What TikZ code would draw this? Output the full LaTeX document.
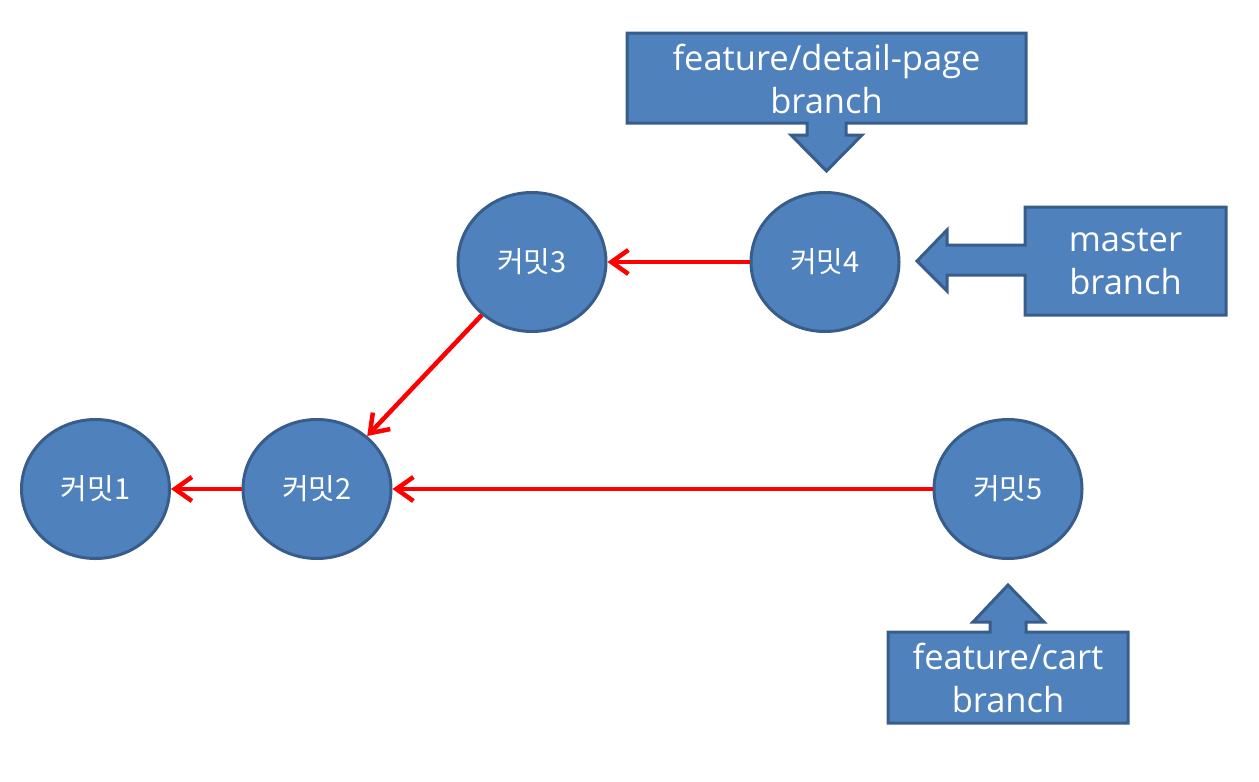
\documentclass[tikz,border=0pt]{standalone}
\usepackage{fontspec}
\setmainfont{Noto Sans CJK KR}
\newfontfamily\latinfont{Open Sans}
\usetikzlibrary{arrows.meta,shapes.geometric}
\definecolor{cfill}{HTML}{4F81BD}
\definecolor{cline}{HTML}{385D8A}
\begin{document}
\begin{tikzpicture}[x=1pt,y=-1pt,
  commit/.style={ellipse,draw=cline,fill=cfill,line width=3pt,minimum width=148pt,minimum height=139pt,inner sep=0pt,text=white,font=\fontsize{29}{34}\selectfont},
  callout/.style={draw=cline,fill=cfill,line width=3pt,line join=miter},
  ctext/.style={text=white,align=center,font=\latinfont\fontsize{34.5}{43}\selectfont,inner sep=0pt},
  link/.style={draw=red,line width=4.5pt,-{Straight Barb[length=17pt,width=24pt,line width=4.5pt]}}]
\useasboundingbox (0,0) rectangle (1259,782);
\node[commit] (c1) at (95.5,489) {커밋1};
\node[commit] (c2) at (317,489) {커밋2};
\node[commit] (c3) at (532,262) {커밋3};
\node[commit] (c4) at (825,262) {커밋4};
\node[commit] (c5) at (1008,489) {커밋5};
\draw[link] (c2) -- (c1);
\draw[link] (c4) -- (c3);
\draw[link] (c3) -- (c2);
\draw[link] (c5) -- (c2);
% callouts
\draw[callout] (627,33) -- (1026,33) -- (1026,123) -- (846,123) -- (846,135) -- (862,135) -- (826.5,171) -- (791,135) -- (807,135) -- (807,123) -- (627,123) -- cycle;
\node[ctext] (b1) at (826.5,79) {feature/detail-page\\branch};
\draw[callout] (1025,207) -- (1226,207) -- (1226,315) -- (1025,315) -- (1025,275) -- (947,275) -- (947,291) -- (917,261) -- (947,230) -- (947,245) -- (1025,245) -- cycle;
\node[ctext] (b2) at (1125.5,262) {master\\branch};
\draw[callout] (888,632) -- (990,632) -- (990,622) -- (973,622) -- (1008,585) -- (1044,622) -- (1026,622) -- (1026,632) -- (1128,632) -- (1128,723) -- (888,723) -- cycle;
\node[ctext] (b3) at (1008,678) {feature/cart\\branch};
\end{tikzpicture}
\end{document}
